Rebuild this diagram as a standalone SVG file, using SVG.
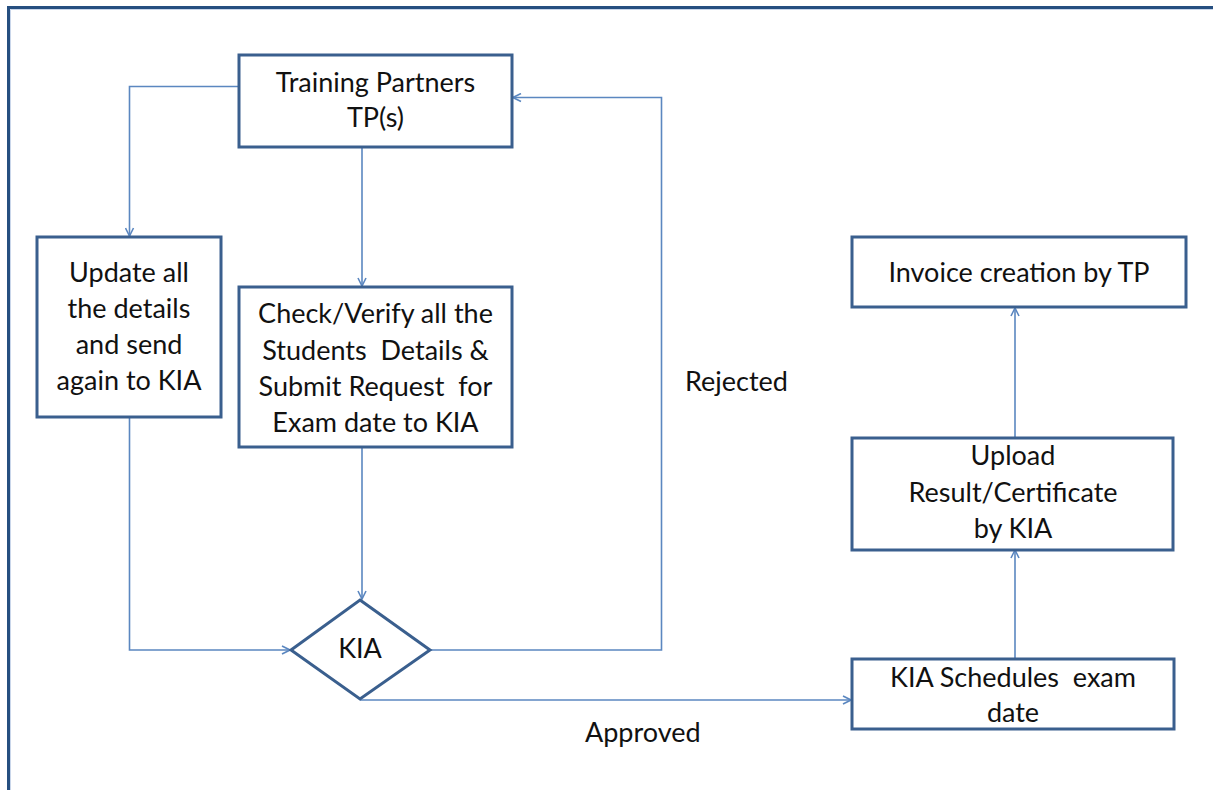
<svg xmlns="http://www.w3.org/2000/svg" width="1213" height="790" viewBox="0 0 1213 790">
<style>
.box{fill:#fff;stroke:#3A5F8E;stroke-width:3}
.con{fill:none;stroke:#5B87C0;stroke-width:1.6}
text{font-family:Lato,"Liberation Sans",sans-serif;font-size:27px;fill:#111;text-anchor:middle;white-space:pre}
.lbl{text-anchor:start}
</style>
<defs>
<marker id="arr" viewBox="0 0 10 10" refX="9" refY="5" markerWidth="10" markerHeight="10" markerUnits="userSpaceOnUse" orient="auto">
<path d="M1,1 L9,5 L1,9" fill="none" stroke="#5B87C0" stroke-width="1.6"/>
</marker>
</defs>
<rect width="1213" height="790" fill="#fff"/>
<path d="M8.5,790 V7.5 H1213" fill="none" stroke="#264F80" stroke-width="3"/>
<path d="M10.5,790 V9.5 H1213" fill="none" stroke="#C9D6EA" stroke-width="1"/>
<g id="connectors">
<path class="con" d="M239,86.5 H129.5 V236" marker-end="url(#arr)"/>
<path class="con" d="M362,147 V286" marker-end="url(#arr)"/>
<path class="con" d="M362,447 V599" marker-end="url(#arr)"/>
<path class="con" d="M129.5,417 V650 H290" marker-end="url(#arr)"/>
<path class="con" d="M430,650 H661.5 V97.5 H513" marker-end="url(#arr)"/>
<path class="con" d="M360,700 H851" marker-end="url(#arr)"/>
<path class="con" d="M1015,659 V550" marker-end="url(#arr)"/>
<path class="con" d="M1015,438 V308" marker-end="url(#arr)"/>
<text class="lbl" x="685" y="391">Rejected</text>
<text class="lbl" x="585" y="742">Approved</text>
</g>
<g id="tp">
<rect class="box" x="239" y="55" width="273" height="92"/>
<text x="375.5" y="92">Training Partners</text>
<text x="375.5" y="127">TP(s)</text>
</g>
<g id="update">
<rect class="box" x="37" y="237" width="184" height="180"/>
<text x="129" y="282">Update all</text>
<text x="129" y="318">the details</text>
<text x="129" y="354">and send</text>
<text x="129" y="390">again to KIA</text>
</g>
<g id="check">
<rect class="box" x="239" y="287" width="273" height="160"/>
<text x="375.5" y="323">Check/Verify all the</text>
<text x="375.5" y="360">Students  Details &amp;</text>
<text x="375.5" y="396">Submit Request  for</text>
<text x="375.5" y="432">Exam date to KIA</text>
</g>
<g id="kia">
<polygon class="box" points="360,600 430,650 360,699 291,650"/>
<text x="360" y="658">KIA</text>
</g>
<g id="schedule">
<rect class="box" x="852" y="659" width="322" height="70"/>
<text x="1013" y="687">KIA Schedules  exam</text>
<text x="1013" y="722">date</text>
</g>
<g id="upload">
<rect class="box" x="852" y="438" width="321" height="112"/>
<text x="1013" y="465">Upload</text>
<text x="1013" y="502">Result/Certificate</text>
<text x="1013" y="538">by KIA</text>
</g>
<g id="invoice">
<rect class="box" x="852" y="237" width="334" height="70"/>
<text x="1019" y="282">Invoice creation by TP</text>
</g>
</svg>
